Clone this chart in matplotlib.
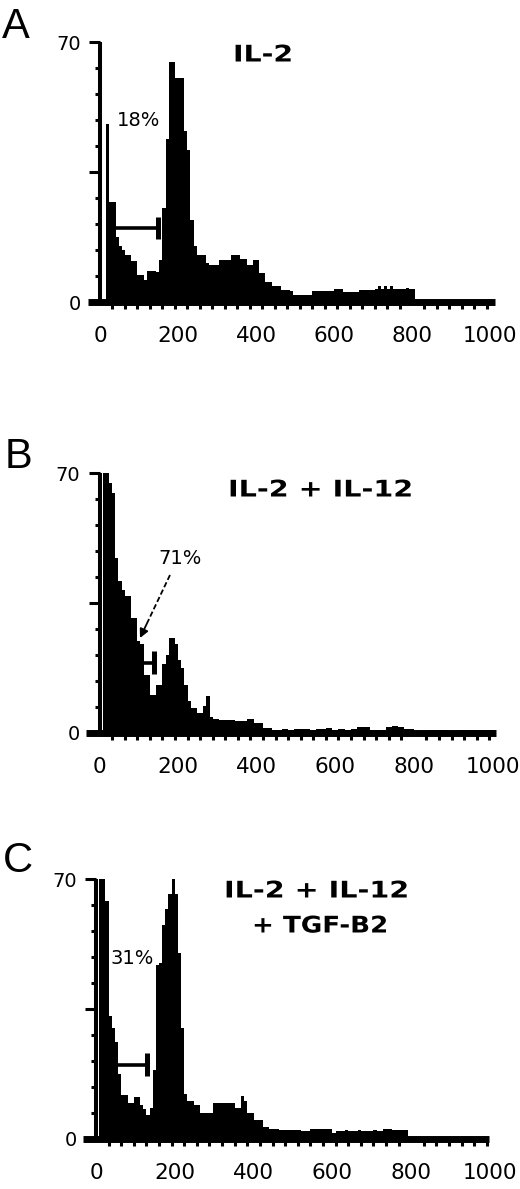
import numpy as np
import matplotlib
matplotlib.use("Agg")
import matplotlib.pyplot as plt
from matplotlib.patheffects import AbstractPathEffect
from matplotlib.transforms import Affine2D

# ---------------- data ----------------
BIN_WIDTH = 8
bin_edges = np.arange(0, 1024 + BIN_WIDTH, BIN_WIDTH)   # 128 channel bins

counts_A = [
    0, 0, 48, 27, 27, 17.5, 15, 14, 12.7, 12.7,
    11, 11, 7.3, 7.3, 6, 8.4, 8.4, 8.4, 8.2, 11.3,
    25.2, 44, 64.7, 64.7, 60.2, 60.2, 60.2, 46, 40.9, 22,
    15, 12.7, 12.7, 12.7, 10.4, 10, 10, 10, 11.3, 11.3,
    11.3, 11.3, 12.7, 12.7, 12.7, 11.7, 11.7, 10, 10, 11.3,
    11.3, 7.7, 7.7, 5.4, 5.4, 4.2, 4.2, 4.2, 3.3, 3.3,
    3.3, 3.0, 1.9, 1.9, 1.9, 1.9, 1.9, 1.9, 3.0, 3.0,
    3.0, 3.0, 3.0, 3.0, 3.0, 3.4, 3.4, 3.4, 2.8, 2.8,
    2.8, 2.8, 2.8, 3.2, 3.2, 3.2, 3.2, 3.2, 3.4, 4.2,
    3.4, 4.2, 3.4, 4.2, 3.4, 3.4, 3.4, 3.4, 3.8, 3.4,
    3.4, 0, 0, 0, 0, 0, 0, 0, 0, 0,
    0, 0, 0, 0, 0, 0, 0, 0, 0, 0,
    0, 0, 0, 0, 0, 0, 0, 0,
]

counts_B = [
    0, 70, 70, 67.3, 64.6, 47, 41, 38.6, 37, 37,
    31, 31, 24.7, 24, 15.7, 15.7, 10.3, 10.3, 13, 13,
    18.5, 21, 25.6, 25.6, 24, 19.6, 17.4, 13, 8.5, 6.7,
    6.7, 5.4, 5.4, 7.2, 9.9, 4.4, 3.7, 3.7, 3.5, 3.5,
    3.5, 3.5, 3.5, 3.1, 3.1, 3.1, 3.1, 3.7, 3.7, 2.8,
    2.8, 2.8, 1.3, 1.3, 1.3, 0.9, 0.9, 0.9, 1.0, 1.0,
    0.8, 0.8, 1.0, 1.0, 1.2, 1.2, 1.0, 0.8, 0.8, 1.0,
    1.0, 1.0, 1.4, 1.4, 0.8, 0.8, 1.0, 1.0, 0.7, 0.7,
    1.0, 1.0, 1.6, 1.6, 1.6, 1.6, 0.8, 0.8, 0.8, 0.8,
    0.8, 1.6, 1.6, 2.0, 2.0, 1.6, 1.6, 1.2, 1.2, 1.2,
    0.3, 0.3, 0.3, 0.3, 0.3, 0.8, 0.8, 0.8, 0.8, 0.8,
    0.8, 0.3, 0.3, 0.3, 0.8, 0.8, 0.8, 0.8, 0.8, 0.8,
    0.8, 0.8, 0.8, 0.8, 0.8, 0, 0, 0,
]

counts_C = [
    0, 70, 70, 64, 33, 29.8, 26, 17.6, 11.8, 11.8,
    9.6, 9.6, 11.4, 11.4, 9.2, 8, 6.5, 8.3, 18.6, 46.8,
    47.3, 57.6, 62, 66, 70, 66, 50, 30, 12, 10.1,
    10.1, 9.2, 9.2, 6.9, 6.9, 6.9, 6.9, 9.6, 9.6, 9.6,
    9.6, 9.6, 9.6, 9.6, 8.3, 8.3, 11.6, 10.1, 6.9, 6.9,
    5.1, 5.1, 5.1, 3.3, 3.3, 2.8, 2.8, 2.8, 2.4, 2.4,
    2.4, 2.4, 2.4, 2.4, 2.4, 2.2, 2.2, 2.2, 2.6, 2.6,
    2.6, 2.6, 2.6, 2.6, 2.6, 1.5, 2.2, 2.2, 2.2, 2.4,
    2.2, 2.2, 2.2, 2.4, 2.2, 2.2, 2.2, 2.2, 2.4, 2.2,
    2.2, 2.8, 2.8, 2.8, 2.4, 2.4, 2.4, 2.4, 2.4, 0,
    0, 0, 0, 0, 0, 0, 0, 0, 0, 0,
    0, 0, 0, 0, 0, 0, 0, 0, 0, 0,
    0, 0, 0, 0, 0, 0, 0, 0,
]

panel_letters = ["A", "B", "C"]
panel_titles = [["IL-2"], ["IL-2 + IL-12"], ["IL-2 + IL-12", "+ TGF-B2"]]
percent_labels = ["18%", "71%", "31%"]
gate_start = [37, 112, 54]       # channel
gate_end = [149, 139, 130]       # channel
gate_level = [19.8, 18.8, 19.9]  # events
x_tick_values = [0, 200, 400, 600, 800, 1000]
y_tick_values = [0, 35, 70]
y_tick_labels = ["0", "", "70"]
Y_MAX = 70

# ---------------- layout (pixels of the 520x1189 picture) ----------------
W, H = 520, 1189
PPC = 3.714  # pixels per count
layout = [
    dict(x0=100.0, s=0.390, y0=302.0, band=(-30, 1013), letter=(2, 38),
         titles=[(233, 55, 60)], pct=(139, 120), arrow=None),
    dict(x0=99.5, s=0.393, y0=733.0, band=(-34, 1010), letter=(5, 468),
         titles=[(228, 490, 185)], pct=(180, 558), arrow=((170, 575), (140, 638))),
    dict(x0=96.0, s=0.394, y0=1139.0, band=(-33, 998), letter=(3, 872),
         titles=[(224, 891, 185), (252, 926, 136)], pct=(132.5, 958), arrow=None),
]
XLIM = (-45, 1030)
YLIM = (-4, 72)


class HStretch(AbstractPathEffect):
    """Stretch text horizontally about its left edge."""
    def __init__(self, sx):
        super().__init__()
        self.sx = sx

    def draw_path(self, renderer, gc, tpath, affine, rgbFace=None):
        renderer.draw_path(gc, tpath, Affine2D().scale(self.sx, 1.0) + affine, rgbFace)


plt.rcParams["font.family"] = ["DejaVu Sans"]
fig = plt.figure(figsize=(W / 100, H / 100), dpi=100)
fig.patch.set_facecolor("white")
renderer = fig.canvas.get_renderer()

all_counts = [counts_A, counts_B, counts_C]

for i, L in enumerate(layout):
    x0, s, y0 = L["x0"], L["s"], L["y0"]
    left_px = x0 + XLIM[0] * s
    right_px = x0 + XLIM[1] * s
    bottom_px = y0 - YLIM[0] * PPC
    top_px = y0 - YLIM[1] * PPC
    ax = fig.add_axes([left_px / W, (H - bottom_px) / H,
                       (right_px - left_px) / W, (bottom_px - top_px) / H])
    ax.set_xlim(*XLIM)
    ax.set_ylim(*YLIM)
    ax.patch.set_alpha(0)

    def to_data(px, py):
        return (px - x0) / s, (y0 - py) / PPC

    # histogram
    ax.stairs(all_counts[i], bin_edges, fill=True, color="black",
              linewidth=0, baseline=0)

    # spines
    for side in ("top", "right"):
        ax.spines[side].set_visible(False)
    ax.spines["left"].set_position(("data", 0))
    ax.spines["left"].set_bounds(0, Y_MAX)
    ax.spines["left"].set_linewidth(2.9)
    ax.spines["left"].set_capstyle("butt")
    ax.spines["bottom"].set_position(("data", 0))
    ax.spines["bottom"].set_bounds(*L["band"])
    ax.spines["bottom"].set_linewidth(5)
    ax.spines["bottom"].set_capstyle("butt")

    # y ticks
    ax.set_yticks(y_tick_values)
    ax.set_yticklabels(y_tick_labels)
    ax.set_yticks(np.arange(7, Y_MAX, 7), minor=True)
    ax.tick_params(axis="y", which="major", length=8, width=2.2, pad=6,
                   labelsize=14, color="black", labelcolor="black")
    ax.tick_params(axis="y", which="minor", length=3.6, width=2.2, color="black")

    # x ticks
    ax.set_xticks(x_tick_values)
    ax.set_xticklabels([str(v) for v in x_tick_values])
    ax.set_xticks(np.arange(0, 1000, 32), minor=True)
    ax.tick_params(axis="x", which="major", length=0, pad=17, labelsize=15.5,
                   labelcolor="black")
    ax.tick_params(axis="x", which="minor", length=5, width=2.2, color="black")

    # gate marker
    gx0, gx1, gy = gate_start[i], gate_end[i], gate_level[i]
    ax.plot([gx0, gx1], [gy, gy], color="black", lw=2.6, solid_capstyle="butt")
    ax.plot([gx1, gx1], [gy - 2.9, gy + 3.2], color="black", lw=3.6,
            solid_capstyle="butt")

    # percent label
    px, py = to_data(*L["pct"])
    ax.text(px, py, percent_labels[i], ha="center", va="center", fontsize=14,
            color="black")

    # arrow (panel B)
    if L["arrow"] is not None:
        (sx_, sy_), (ex_, ey_) = L["arrow"]
        a0 = to_data(sx_, sy_)
        a1 = to_data(ex_, ey_)
        mid = to_data(ex_ + (sx_ - ex_) * 0.22, ey_ + (sy_ - ey_) * 0.22)
        ax.plot([a0[0], mid[0]], [a0[1], mid[1]], color="black", lw=1.3,
                linestyle=(0, (3, 1.5)))
        ax.annotate("", xy=a1, xytext=mid,
                    arrowprops=dict(arrowstyle="-|>", color="black", lw=1.3,
                                    mutation_scale=13, shrinkA=0, shrinkB=0))

    # titles (stretched to match the wide lettering)
    for text, (tl, tc, tw) in zip(panel_titles[i], L["titles"]):
        t = fig.text(tl / W, (H - tc) / H, text, ha="left", va="center",
                     fontsize=16.5, fontweight="bold", color="black")
        natural = t.get_window_extent(renderer=renderer).width
        t.set_path_effects([HStretch(tw / natural)])

    # panel letter
    lx, ly = L["letter"]
    fig.text(lx / W, (H - ly) / H, panel_letters[i], ha="left", va="baseline",
             fontsize=30, family=["Liberation Sans", "DejaVu Sans"], color="black")

fig.savefig("out.png", dpi=100, facecolor="white")
